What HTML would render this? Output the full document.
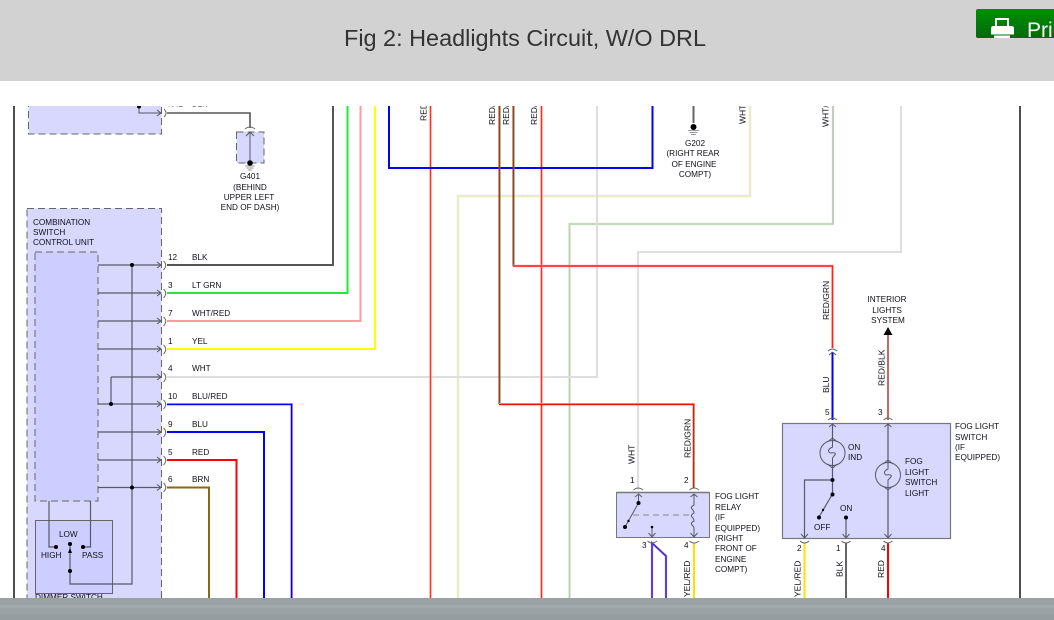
<!DOCTYPE html>
<html>
<head>
<meta charset="utf-8">
<style>
html,body{margin:0;padding:0;width:1054px;height:620px;overflow:hidden;background:#fff}
svg{display:block}
text{font-family:"Liberation Sans",sans-serif;font-size:8.2px;fill:#101018}
.r text{font-size:8.5px}
.w{fill:none;stroke-linejoin:miter}
.i{fill:none;stroke:#555a66;stroke-width:1.2}
.a{fill:none;stroke:#555a66;stroke-width:1}
.c{fill:none;stroke:#666;stroke-width:1}
</style>
</head>
<body>
<svg width="1054" height="620" viewBox="0 0 1054 620" xmlns="http://www.w3.org/2000/svg">
<rect width="1054" height="620" fill="#fff"/>

<!-- borders -->
<path d="M14 106V598M1020 106V598" stroke="#222" stroke-width="1.600" fill="none"/>

<!-- top box -->
<path d="M28.500 100H161.500V134H28.500Z" fill="#d8d8ff"/>
<path d="M28.500 100V134H161.500V100" fill="none" stroke="#666" stroke-width="1" stroke-dasharray="7 4"/>
<path d="M139 100V113H161M157 110L161 113L157 116" class="a"/>
<circle cx="139" cy="106.500" r="2" fill="#000"/>
<path d="M164 109Q168 113 164 117" class="c"/>
<path d="M167 113H250V128" class="w" stroke="#555" stroke-width="1.600"/>
<text x="168" y="106.500">N42</text><text x="192" y="106.500">BLK</text>

<!-- G401 -->
<rect x="236.500" y="132" width="27.500" height="31" fill="#d8d8ff" stroke="#666" stroke-width="1" stroke-dasharray="7 4"/>
<path d="M245 129Q250 125 255 129" class="c"/>
<path d="M250 132V162M246 136L250 132L254 136" class="a"/>
<circle cx="250" cy="163" r="2.800" fill="#000"/>
<path d="M245 166H255M246.500 168H253.500M248 170H252" stroke="#777" stroke-width="0.800" fill="none"/>
<g text-anchor="middle">
<text x="250" y="179">G401</text>
<text x="250" y="190">(BEHIND</text>
<text x="249" y="200">UPPER LEFT</text>
<text x="250" y="210">END OF DASH)</text>
</g>

<!-- combination unit -->
<rect x="27" y="208.500" width="134.500" height="392" fill="#d8d8ff" stroke="#666" stroke-width="1" stroke-dasharray="7 4"/>
<text x="33" y="225">COMBINATION</text>
<text x="33" y="235">SWITCH</text>
<text x="33" y="245">CONTROL UNIT</text>
<rect x="35" y="252" width="63" height="249" fill="#cdcdff" stroke="#666" stroke-width="1" stroke-dasharray="7 4"/>
<rect x="35.500" y="520.500" width="77" height="73" fill="#cdcdff" stroke="#666" stroke-width="1"/>

<!-- internal wires -->
<g class="a">
<path class="i" d="M98 265H161M98 293H161M98 321H161M98 349H161M111 377H161M98 404H161M98 432H161M98 460H161M98 487.500H161"/>
<path class="i" d="M132 265V584H70V544M111 377V404M49 501V547H56M90.500 501V547H83"/>
<path d="M157 262L161 265L157 268M157 290L161 293L157 296M157 318L161 321L157 324M157 346L161 349L157 352M157 374L161 377L157 380M157 401L161 404L157 407M157 429L161 432L157 435M157 457L161 460L157 463M157 484.500L161 487.500L157 490.500"/>
</g>
<g fill="#000">
<circle cx="132" cy="265" r="2"/><circle cx="132" cy="487.500" r="2"/><circle cx="111" cy="404" r="2"/>
<circle cx="56" cy="547" r="2"/><circle cx="70" cy="544" r="2"/><circle cx="83" cy="547" r="2"/><circle cx="70" cy="571" r="2"/>
<path d="M70 548L72 553H68Z"/>
</g>
<text x="59" y="537">LOW</text>
<text x="41" y="558">HIGH</text>
<text x="82" y="558">PASS</text>
<text x="35" y="600">DIMMER SWITCH</text>

<!-- connector arcs left -->
<g class="c">
<path d="M163.500 261Q168 265 163.500 270M163.500 289Q168 293 163.500 298M163.500 317Q168 321 163.500 326M163.500 345Q168 349 163.500 354M163.500 373Q168 377 163.500 382M163.500 400Q168 404 163.500 409M163.500 428Q168 432 163.500 437M163.500 456Q168 460 163.500 465M163.500 483Q168 487.500 163.500 492"/>
</g>

<!-- pin labels -->
<text x="168" y="260">12</text><text x="192" y="260">BLK</text>
<text x="168" y="288">3</text><text x="192" y="288">LT GRN</text>
<text x="168" y="316">7</text><text x="192" y="316">WHT/RED</text>
<text x="168" y="344">1</text><text x="192" y="344">YEL</text>
<text x="168" y="371">4</text><text x="192" y="371">WHT</text>
<text x="168" y="399">10</text><text x="192" y="399">BLU/RED</text>
<text x="168" y="427">9</text><text x="192" y="427">BLU</text>
<text x="168" y="455">5</text><text x="192" y="455">RED</text>
<text x="168" y="482">6</text><text x="192" y="482">BRN</text>

<!-- wires -->
<g class="w">
<path d="M458 598V196H750V100" stroke="#e2e2e2" stroke-width="2.400"/>
<path d="M458 598V196H750V100" stroke="#f6f6a0" stroke-width="1"/>
<path d="M569.500 598V224H833V100" stroke="#dcdcdc" stroke-width="2.400"/>
<path d="M569.500 598V224H833" stroke="#a8dc98" stroke-width="1"/>
<path d="M833 224V100" stroke="#b8c8b8" stroke-width="1.400"/>
<path d="M638 490V252H901V100" stroke="#dedede" stroke-width="2"/>
<path d="M597 100V377H167" stroke="#dedede" stroke-width="2"/>

<path d="M167 265H333V100" stroke="#555" stroke-width="2"/>
<path d="M167 293H347.500V100" stroke="#22e83a" stroke-width="2"/>
<path d="M167 321H360.500V100" stroke="#ff9a9a" stroke-width="2"/>
<path d="M167 349H375V100" stroke="#ffff00" stroke-width="2"/>

<path d="M430.500 100V598" stroke="#ffa090" stroke-width="2.400"/>
<path d="M430.500 100V598" stroke="#ff3020" stroke-width="1"/>
<path d="M541.500 100V598" stroke="#ff9a8a" stroke-width="2.400"/>
<path d="M541.500 100V598" stroke="#ff2a20" stroke-width="1"/>

<path d="M167 403.500H292.500V598" stroke="#ff9a9a" stroke-width="1"/>
<path d="M167 404.500H291.500V598" stroke="#0000ff" stroke-width="1.600"/>
<path d="M167 432H264V598" stroke="#0000ff" stroke-width="2"/>
<path d="M167 460H236.500V598" stroke="#ff0000" stroke-width="2"/>
<path d="M167 487.500H209V598" stroke="#8a6a10" stroke-width="2"/>

<path d="M389 100V168H652.500V100" stroke="#0000ff" stroke-width="2"/>

<path d="M500 100V404" stroke="#3c8a28" stroke-width="1"/>
<path d="M499 100V404" stroke="#cc1010" stroke-width="1"/>
<path d="M499 403.500H694.500V488" stroke="#a8d080" stroke-width="1"/>
<path d="M499 404.500H693.500V488" stroke="#f01010" stroke-width="1.500"/>
<path d="M514 100V266" stroke="#3c8a28" stroke-width="1"/>
<path d="M513 100V266" stroke="#cc1010" stroke-width="1"/>
<path d="M513 266H832.500V348" stroke="#ffb0a0" stroke-width="2.400"/>
<path d="M513 266H832.500V348" stroke="#ff2020" stroke-width="1.400"/>

<path d="M832.500 352V420" stroke="#0000ff" stroke-width="2"/>
<path d="M888 335V420" stroke="#cc6666" stroke-width="2"/>

<path d="M652 598V543L666 556V598" stroke="#8a60d0" stroke-width="2.200"/>
<path d="M652 598V543L666 556V598" stroke="#3020d0" stroke-width="1"/>
<path d="M694 543V598" stroke="#ffe000" stroke-width="2"/>
<path d="M804.500 543V598" stroke="#ffe000" stroke-width="2"/>
<path d="M846 543V598" stroke="#666" stroke-width="2"/>
<path d="M888 543V598" stroke="#ff0000" stroke-width="2"/>

<path d="M693.500 100V123" stroke="#666" stroke-width="2"/>
</g>

<!-- G202 -->
<circle cx="693.500" cy="127" r="3" fill="#000"/>
<path d="M688 130.500H699M689.500 132.500H697.500M691 134.500H696" stroke="#777" stroke-width="0.800" fill="none"/>
<g text-anchor="middle">
<text x="695" y="146">G202</text>
<text x="693" y="156">(RIGHT REAR</text>
<text x="694" y="167">OF ENGINE</text>
<text x="695" y="177">COMPT)</text>
</g>

<!-- rotated labels -->
<g class="r">
<text transform="translate(426.500 121) rotate(-90)">RED</text>
<text transform="translate(495 125) rotate(-90)">RED/</text>
<text transform="translate(509 125) rotate(-90)">RED/</text>
<text transform="translate(537 125) rotate(-90)">RED/</text>
<text transform="translate(745.500 124) rotate(-90)">WHT</text>
<text transform="translate(828.500 127) rotate(-90)">WHT/</text>
<text transform="translate(829 320) rotate(-90)">RED/GRN</text>
<text transform="translate(829 393) rotate(-90)">BLU</text>
<text transform="translate(884.500 386) rotate(-90)">RED/BLK</text>
<text transform="translate(634.500 464) rotate(-90)">WHT</text>
<text transform="translate(690.500 458) rotate(-90)">RED/GRN</text>
<text transform="translate(690 597) rotate(-90)">YEL/RED</text>
<text transform="translate(800.500 597) rotate(-90)">YEL/RED</text>
<text transform="translate(842.500 577) rotate(-90)">BLK</text>
<text transform="translate(884 578) rotate(-90)">RED</text>
</g>

<!-- interior lights -->
<g text-anchor="middle">
<text x="887" y="302">INTERIOR</text>
<text x="887" y="313">LIGHTS</text>
<text x="888" y="323">SYSTEM</text>
</g>
<path d="M883.500 335L888 327L892.500 335Z" fill="#000"/>
<path d="M828 351Q832.500 347 837 351" class="c"/>
<path d="M832.500 352L829 355M832.500 352L836 355" class="a"/>

<!-- relay -->
<rect x="616.500" y="492.500" width="93" height="45" fill="#d8d8ff" stroke="#777" stroke-width="1"/>
<path d="M616.500 492.500H709.500" stroke="#777" stroke-width="1.500"/>
<path d="M633.500 490Q638 486 643 490M689.500 490Q694 486 699 490M647.500 541Q652 545 657 541M689.500 541Q694 545 699 541" class="c"/>
<g class="a">
<path d="M638.500 494V503L625 527M635 497L638.500 494L642 497"/>
<path d="M633 515H692" stroke-dasharray="6 4" stroke="#888"/>
<path d="M652 527V537M648.500 533L652 537L655.500 533"/>
<path d="M694 494V505Q690 507 692 509T694 513Q690 515 692 517T694 521Q690 523 692 525T694 528V537M690.500 497L694 494L697.500 497M690.500 533L694 537L697.500 533"/>
</g>
<circle cx="638.500" cy="503" r="2" fill="#000"/><circle cx="625" cy="527" r="2" fill="#000"/><circle cx="652" cy="527" r="1.300" fill="#000"/><circle cx="628.500" cy="521" r="1.200" fill="#000"/>
<text x="630" y="483">1</text><text x="684" y="483">2</text><text x="642" y="548">3</text><text x="684" y="548">4</text>
<text x="715" y="499">FOG LIGHT</text>
<text x="715" y="510">RELAY</text>
<text x="715" y="520">(IF</text>
<text x="715" y="531">EQUIPPED)</text>
<text x="715" y="541">(RIGHT</text>
<text x="715" y="551">FRONT OF</text>
<text x="715" y="562">ENGINE</text>
<text x="715" y="572">COMPT)</text>

<!-- fog switch -->
<rect x="782.500" y="423.500" width="168" height="115" fill="#d8d8ff" stroke="#777" stroke-width="1.200"/>
<path d="M828 420Q832.500 416 837 420M883.500 420Q888 416 892.500 420M800 541Q804.500 545 809 541M841.500 541Q846 545 850.500 541M883.500 541Q888 545 892.500 541" class="c"/>
<g class="i">
<path d="M832.500 424V480M832.500 480H804.500V537M832.500 480V494L819 517M846 517V537M888 424V537"/>
</g>
<g class="a">
<path d="M829 427L832.500 424L836 427M884.500 427L888 424L891.500 427M801 534L804.500 538L808 534M842.500 534L846 538L849.500 534M884.500 534L888 538L891.500 534"/>
<circle cx="832.500" cy="453" r="12.500" fill="#d8d8ff"/>
<circle cx="888" cy="475" r="12.500" fill="#d8d8ff"/>
<path d="M827.500 442L832.500 438L837.500 442M827.500 464L832.500 468L837.500 464M883 464L888 460L893 464M883 486L888 490L893 486"/>
<path d="M832.500 440V447Q826 450 830 453Q838 452 834 456L832.500 458V467M888 462V469Q882 472 886 475Q894 474 890 478L888 480V489"/>
</g>
<g fill="#000">
<circle cx="832.500" cy="480" r="2"/><circle cx="832.500" cy="494.500" r="2"/><circle cx="819" cy="517.500" r="2"/><circle cx="846" cy="517.500" r="2"/><circle cx="823" cy="510" r="1.200"/>
</g>
<text x="848" y="450">ON</text>
<text x="848" y="460">IND</text>
<text x="905" y="464">FOG</text>
<text x="905" y="475">LIGHT</text>
<text x="905" y="485">SWITCH</text>
<text x="905" y="496">LIGHT</text>
<text x="840" y="511">ON</text>
<text x="814" y="530">OFF</text>
<text x="825" y="415">5</text><text x="878" y="415">3</text>
<text x="797" y="551">2</text><text x="836" y="551">1</text><text x="881" y="551">4</text>
<text x="955" y="429">FOG LIGHT</text>
<text x="955" y="440">SWITCH</text>
<text x="955" y="450">(IF</text>
<text x="955" y="460">EQUIPPED)</text>

<!-- white band clipping the top of the diagram -->
<rect x="0" y="81" width="1054" height="25" fill="#fff"/>

<!-- header -->
<rect x="0" y="0" width="1054" height="81" fill="#d2d2d2"/>
<text x="344" y="46" style="font-size:23.500px;fill:#333" textLength="362" lengthAdjust="spacingAndGlyphs">Fig 2: Headlights Circuit, W/O DRL</text>
<defs><linearGradient id="g" x1="0" y1="0" x2="0" y2="1"><stop offset="0" stop-color="#009000"/><stop offset="1" stop-color="#006a10"/></linearGradient></defs>
<path d="M1054 9H978Q976 9 976 11V36Q976 38 978 38H1054Z" fill="url(#g)"/>
<rect x="996" y="19" width="12" height="8" fill="none" stroke="#fff" stroke-width="2"/>
<path d="M993 26H1012Q1014 26 1014 29V34.500H991V29Q991 26 993 26Z" fill="#fff"/>
<rect x="994" y="35.500" width="16" height="2.500" fill="#fff"/>
<text x="1027" y="37" style="font-size:21px;fill:#fff">Pri</text>

<!-- bottom bar -->
<rect x="0" y="598" width="1054" height="22" fill="#9aa2a5"/>
<rect x="0" y="605" width="1054" height="3" fill="#a2aaac"/>
<rect x="0" y="614" width="1054" height="6" fill="#959da1"/>
</svg>
</body>
</html>
